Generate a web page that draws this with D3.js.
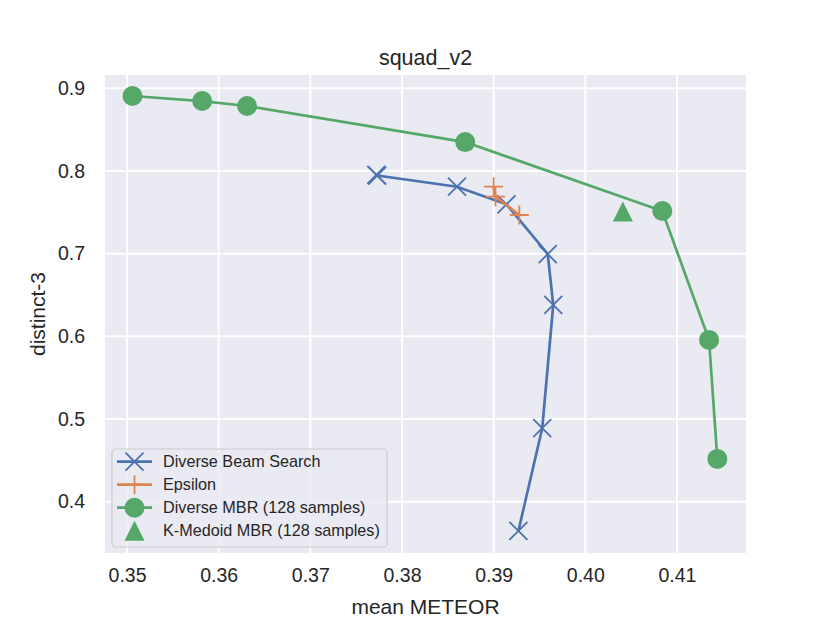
<!DOCTYPE html>
<html>
<head>
<meta charset="utf-8">
<script src="https://cdn.jsdelivr.net/npm/d3@7"></script>
<style>
    body { margin: 0; background: #fff; }
    text { font-family: "Liberation Sans", Arial, sans-serif; fill: #262626; }
</style>
</head>
<body>
<svg id="chart" width="830" height="623"></svg>
<script>
// values
const beamMeteor = [0.3772, 0.3773, 0.3860, 0.3914, 0.3959, 0.3965, 0.3953, 0.3927];
const beamDistinct = [0.7952, 0.7945, 0.7810, 0.7597, 0.6996, 0.6380, 0.4889, 0.3647];

const epsilonMeteor = [0.3900, 0.3902, 0.3928];
const epsilonDistinct = [0.7810, 0.7689, 0.7468];

const mbrMeteor = [0.3506, 0.3582, 0.3631, 0.3869, 0.4084, 0.4135, 0.4144];
const mbrDistinct = [0.8907, 0.8846, 0.8786, 0.8350, 0.7516, 0.5957, 0.4518];

const medoidMeteor = [0.4041];
const medoidDistinct = [0.7510];

const xTicks = [0.35, 0.36, 0.37, 0.38, 0.39, 0.40, 0.41];
const yTicks = [0.4, 0.5, 0.6, 0.7, 0.8, 0.9];

const seriesNames = ['Diverse Beam Search', 'Epsilon', 'Diverse MBR (128 samples)', 'K-Medoid MBR (128 samples)'];

const palette = { blue: '#4c72b0', orange: '#dd8452', green: '#55a868' };

const plot = { left: 105, right: 746, top: 75, bottom: 553 };

const svg = d3.select('#chart');

const x = d3.scaleLinear().domain([0.3476, 0.41753]).range([plot.left, plot.right]);
const y = d3.scaleLinear().domain([0.3380, 0.9161]).range([plot.bottom, plot.top]);

svg.append('rect')
    .attr('x', plot.left).attr('y', plot.top)
    .attr('width', plot.right - plot.left).attr('height', plot.bottom - plot.top)
    .attr('fill', '#eaeaf2');

// grid
const grid = svg.append('g').attr('class', 'grid');
grid.selectAll('line.gx').data(xTicks).enter().append('line')
    .attr('x1', d => x(d)).attr('x2', d => x(d))
    .attr('y1', plot.top).attr('y2', plot.bottom)
    .attr('stroke', '#fff').attr('stroke-width', 2);
grid.selectAll('line.gy').data(yTicks).enter().append('line')
    .attr('y1', d => y(d)).attr('y2', d => y(d))
    .attr('x1', plot.left).attr('x2', plot.right)
    .attr('stroke', '#fff').attr('stroke-width', 2);

// axes (no tick marks, seaborn darkgrid)
const xAxis = svg.append('g')
    .attr('transform', `translate(0,${plot.bottom})`)
    .call(d3.axisBottom(x).tickValues(xTicks).tickFormat(d3.format('.2f')).tickSize(0).tickPadding(15));
const yAxis = svg.append('g')
    .attr('transform', `translate(${plot.left},0)`)
    .call(d3.axisLeft(y).tickValues(yTicks).tickFormat(d3.format('.1f')).tickSize(0).tickPadding(20));
[xAxis, yAxis].forEach(ax => {
    ax.select('.domain').remove();
    ax.selectAll('text').attr('font-size', 19.5).attr('fill', '#262626')
        .attr('font-family', '"Liberation Sans", Arial, sans-serif');
});

svg.append('text')
    .attr('x', (plot.left + plot.right) / 2).attr('y', 65)
    .attr('text-anchor', 'middle').attr('font-size', 21.5)
    .text('squad_v2');
svg.append('text')
    .attr('x', (plot.left + plot.right) / 2).attr('y', 614)
    .attr('text-anchor', 'middle').attr('font-size', 21)
    .text('mean METEOR');
svg.append('text')
    .attr('transform', `translate(45,${(plot.top + plot.bottom) / 2}) rotate(-90)`)
    .attr('text-anchor', 'middle').attr('font-size', 21)
    .text('distinct-3');

// marker shapes
const xMark = s => `M${-s},${-s}L${s},${s}M${-s},${s}L${s},${-s}`;
const plusMark = s => `M${-s},0L${s},0M0,${-s}L0,${s}`;
const triMark = s => `M0,${-s}L${s},${s}L${-s},${s}Z`;

const zip = (xs, ys) => xs.map((v, i) => ({ mx: v, dy: ys[i] }));

const line = d3.line().x(d => x(d.mx)).y(d => y(d.dy));

const beam = zip(beamMeteor, beamDistinct);
const eps = zip(epsilonMeteor, epsilonDistinct);
const mbr = zip(mbrMeteor, mbrDistinct);
const medoid = zip(medoidMeteor, medoidDistinct);

const marks = svg.append('g').attr('class', 'marks');

// draw order follows the plotting order of the original
marks.append('path').datum(beam).attr('d', line)
    .attr('fill', 'none').attr('stroke', palette.blue).attr('stroke-width', 2.7);
marks.selectAll('path.beam').data(beam).enter().append('path')
    .attr('class', 'beam')
    .attr('transform', d => `translate(${x(d.mx)},${y(d.dy)})`)
    .attr('d', xMark(9)).attr('stroke', palette.blue).attr('stroke-width', 1.8).attr('fill', 'none');

marks.append('path').datum(eps).attr('d', line)
    .attr('fill', 'none').attr('stroke', palette.orange).attr('stroke-width', 2.7);
marks.selectAll('path.eps').data(eps).enter().append('path')
    .attr('class', 'eps')
    .attr('transform', d => `translate(${x(d.mx)},${y(d.dy)})`)
    .attr('d', plusMark(9.5)).attr('stroke', palette.orange).attr('stroke-width', 1.8).attr('fill', 'none');

marks.append('path').datum(mbr).attr('d', line)
    .attr('fill', 'none').attr('stroke', palette.green).attr('stroke-width', 2.7);
marks.selectAll('circle.mbr').data(mbr).enter().append('circle')
    .attr('class', 'mbr')
    .attr('cx', d => x(d.mx)).attr('cy', d => y(d.dy))
    .attr('r', 10).attr('fill', palette.green);

marks.selectAll('path.medoid').data(medoid).enter().append('path')
    .attr('class', 'medoid')
    .attr('transform', d => `translate(${x(d.mx)},${y(d.dy)})`)
    .attr('d', triMark(10)).attr('fill', palette.green);

// legend
const legend = svg.append('g').attr('transform', 'translate(112,449)');
legend.append('rect')
    .attr('width', 275).attr('height', 98).attr('rx', 4)
    .attr('fill', '#eaeaf2').attr('fill-opacity', 0.8)
    .attr('stroke', '#cccccc').attr('stroke-width', 1.2);

const rows = legend.selectAll('g.row').data(seriesNames).enter().append('g')
    .attr('class', 'row')
    .attr('transform', (d, i) => `translate(0,${12.7 + i * 23})`);

rows.each(function (name, i) {
    const g = d3.select(this);
    const color = [palette.blue, palette.orange, palette.green, palette.green][i];
    if (i < 3) {
        g.append('line').attr('x1', 5).attr('x2', 40).attr('y1', 0).attr('y2', 0)
            .attr('stroke', color).attr('stroke-width', 2.7);
    }
    if (i === 0) {
        g.append('path').attr('transform', 'translate(22.5,0)').attr('d', xMark(9))
            .attr('stroke', color).attr('stroke-width', 1.8).attr('fill', 'none');
    } else if (i === 1) {
        g.append('path').attr('transform', 'translate(22.5,0)').attr('d', plusMark(9.5))
            .attr('stroke', color).attr('stroke-width', 1.8).attr('fill', 'none');
    } else if (i === 2) {
        g.append('circle').attr('cx', 22.5).attr('cy', 0).attr('r', 10).attr('fill', color);
    } else {
        g.append('path').attr('transform', 'translate(22.5,0)').attr('d', triMark(10)).attr('fill', color);
    }
    g.append('text').attr('x', 51).attr('y', 0).attr('dy', '0.35em')
        .attr('font-size', 16.2).text(name);
});
</script>
</body>
</html>
